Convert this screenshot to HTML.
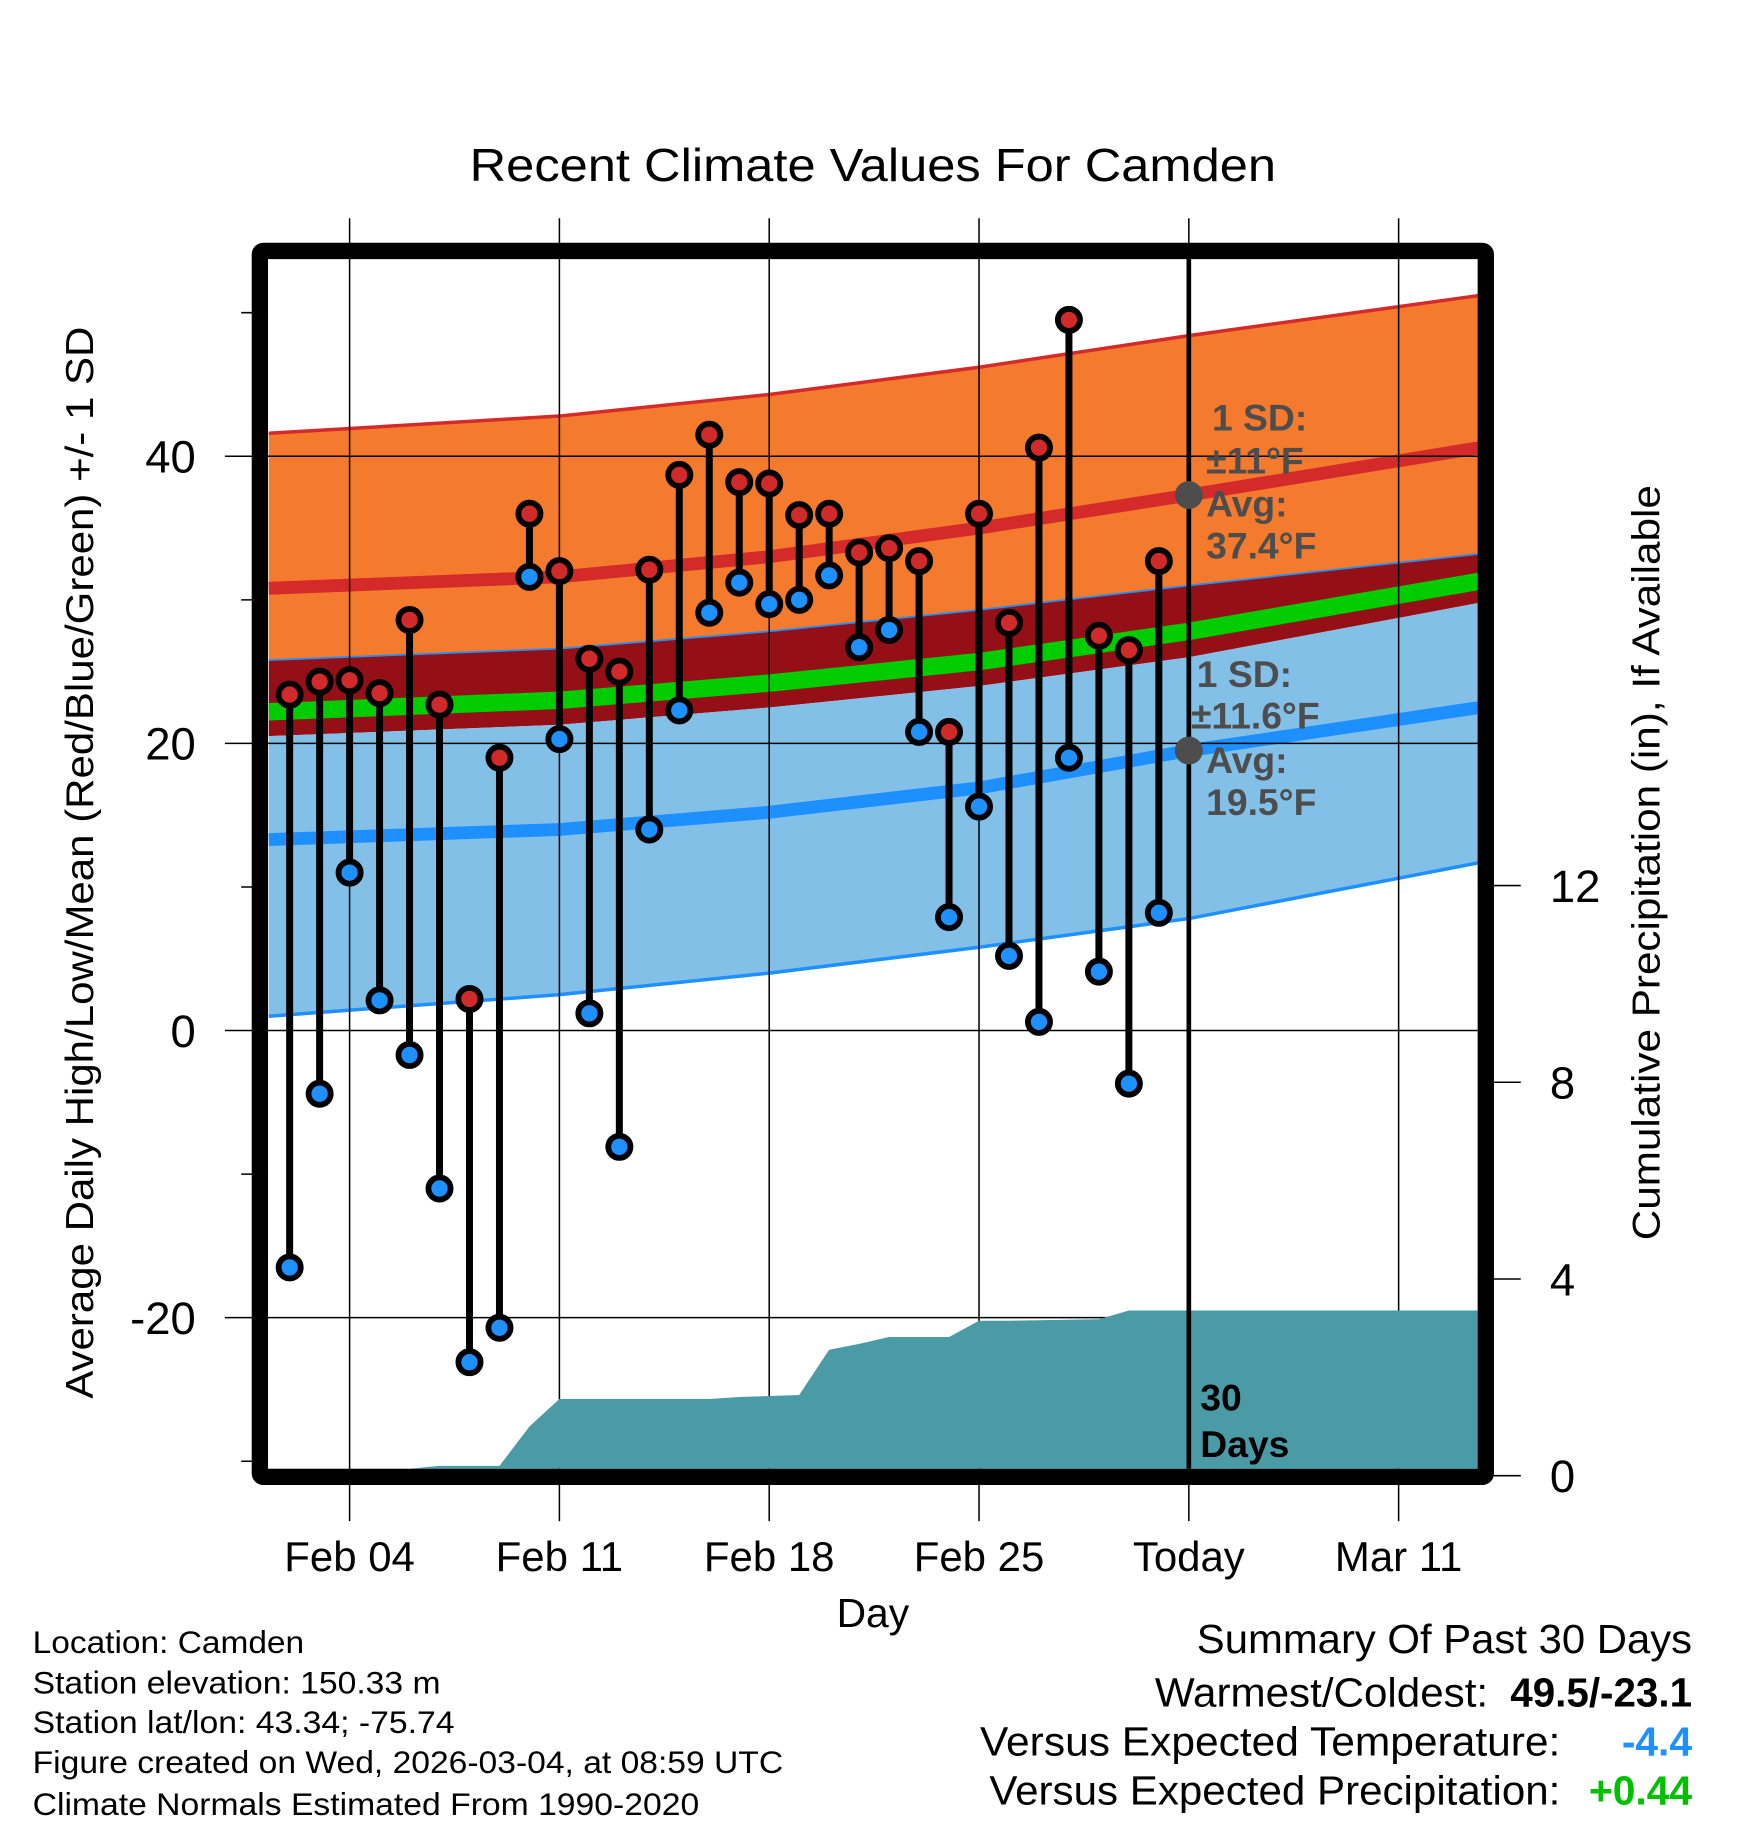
<!DOCTYPE html>
<html><head><meta charset="utf-8"><style>
html,body{margin:0;padding:0;background:#fff;}
svg{display:block;font-family:"Liberation Sans",Arial,sans-serif;}
</style></head><body>
<svg id="chart" width="1748" height="1828" viewBox="0 0 1500 1568" xmlns="http://www.w3.org/2000/svg">
<g id="bands"></g>
<g id="grid"></g>
<g id="precip"></g>
<g id="marks"></g>
<g id="annot"></g>
<g id="axes"></g>
<text x="749" y="155" font-size="40" text-anchor="middle" textLength="692" lengthAdjust="spacingAndGlyphs">Recent Climate Values For Camden</text>
<text transform="translate(80,740) rotate(-90)" font-size="33" text-anchor="middle" textLength="920" lengthAdjust="spacingAndGlyphs">Average Daily High/Low/Mean (Red/Blue/Green) +/- 1 SD</text>
<text transform="translate(1424,740) rotate(-90)" font-size="33" text-anchor="middle" textLength="648" lengthAdjust="spacingAndGlyphs">Cumulative Precipitation (in), If Available</text>
<text x="749" y="1396" font-size="35" text-anchor="middle">Day</text>
<g font-size="27">
<text x="28" y="1418" textLength="233" lengthAdjust="spacingAndGlyphs">Location: Camden</text>
<text x="28" y="1453" textLength="350" lengthAdjust="spacingAndGlyphs">Station elevation: 150.33 m</text>
<text x="28" y="1487" textLength="362" lengthAdjust="spacingAndGlyphs">Station lat/lon: 43.34; -75.74</text>
<text x="28" y="1521" textLength="644" lengthAdjust="spacingAndGlyphs">Figure created on Wed, 2026-03-04, at 08:59 UTC</text>
<text x="28" y="1557" textLength="572" lengthAdjust="spacingAndGlyphs">Climate Normals Estimated From 1990-2020</text>
</g>
<g font-size="35">
<text x="1027" y="1418" textLength="425" lengthAdjust="spacingAndGlyphs">Summary Of Past 30 Days</text>
<text x="991" y="1464" textLength="286" lengthAdjust="spacingAndGlyphs">Warmest/Coldest:</text>
<text x="1296" y="1464" font-weight="bold" textLength="156" lengthAdjust="spacingAndGlyphs">49.5/-23.1</text>
<text x="841" y="1506" textLength="498" lengthAdjust="spacingAndGlyphs">Versus Expected Temperature:</text>
<text x="1452" y="1506" fill="#1e90ff" font-weight="bold" text-anchor="end">-4.4</text>
<text x="849" y="1548" textLength="490" lengthAdjust="spacingAndGlyphs">Versus Expected Precipitation:</text>
<text x="1452" y="1548" fill="#00c000" font-weight="bold" text-anchor="end">+0.44</text>
</g>
</svg>
<script>
// data (day index: 0 = Feb 04)
const days = [-2,-1,0,1,2,3,4,5,6,7,8,9,10,11,12,13,14,15,16,17,18,19,20,21,22,23,24,25,26,27];
const highs = [23.4,24.3,24.4,23.5,28.6,22.7,2.2,19.0,36.0,32.0,25.9,25.0,32.1,38.7,41.5,38.2,38.1,35.9,36.0,33.3,33.6,32.7,20.8,36.0,28.4,40.6,49.5,27.5,26.5,32.7];
const lows = [-16.5,-4.4,11.0,2.1,-1.7,-11.0,-23.1,-20.7,31.6,20.3,1.2,-8.1,14.0,22.3,29.1,31.2,29.7,30.0,31.7,26.7,27.9,20.8,7.9,15.6,5.2,0.6,19.0,4.1,-3.7,8.2];
const precipCum = [0,0,0,0,0,0.2,0.2,0.2,1.0,1.56,1.56,1.56,1.56,1.56,1.56,1.6,1.62,1.64,2.56,2.68,2.82,2.82,2.82,3.15,3.15,3.16,3.17,3.18,3.36,3.36];
const normDays = [-2.7,7,14,21,28,37.7];
const highUpper = [41.6,42.8,44.3,46.2,48.4,51.2];
const highMean = [30.8,31.6,33.0,35.0,37.3,40.6];
const orangeLower = [25.8,26.6,27.8,29.3,31.0,33.2];
const meanLine = [22.2,23.0,24.2,25.7,27.8,31.3];
const blueUpper = [20.5,21.3,22.5,24.0,26.0,29.8];
const lowMean = [13.3,14.0,15.2,16.9,19.5,22.5];
const lowLower = [1.0,2.5,4.0,5.8,7.8,11.7];
const yTicks = [40,20,0,-20];
const yMinor = [50,30,10,-10,-30];
const pTicks = [12,8,4,0];
const xTickDays = [0,7,14,21,28,35];
const xTickLabels = ["Feb 04","Feb 11","Feb 18","Feb 25","Today","Mar 11"];

const NS="http://www.w3.org/2000/svg";
const L=230,R=1268,T=222,B=1260;
const X=d=>300+25.72*d;
const Y=v=>884-12.32*v;
const P=p=>1266-42.2*p;
function mk(parent,tag,attrs){const e=document.createElementNS(NS,tag);for(const k in attrs)e.setAttribute(k,attrs[k]);document.getElementById(parent).appendChild(e);return e;}
function line(arr){return normDays.map((d,i)=>X(d).toFixed(1)+","+Y(arr[i]).toFixed(1));}
function band(a,b){return line(a).concat(line(b).reverse()).join(" ");}

let e;
e=mk('bands','polygon',{points:band(highUpper,orangeLower),fill:'#f47a2e'});


e=mk('bands','polyline',{points:line(highUpper).join(" "),fill:'none',stroke:'#d42a2a','stroke-width':3});


e=mk('bands','polygon',{points:band(orangeLower,blueUpper),fill:'#950f16'});


e=mk('bands','polygon',{points:band(blueUpper,lowLower),fill:'#82c0e8'});


e=mk('bands','polyline',{points:line(orangeLower).join(" "),fill:'none',stroke:'#1e90ff','stroke-width':1.5});


e=mk('bands','polyline',{points:line(lowLower).join(" "),fill:'none',stroke:'#1e90ff','stroke-width':3});


e=mk('bands','polyline',{points:line(meanLine).join(" "),fill:'none',stroke:'#00cc00','stroke-width':15});


e=mk('bands','polyline',{points:line(highMean).join(" "),fill:'none',stroke:'#d42a2a','stroke-width':11});


e=mk('bands','polyline',{points:line(lowMean).join(" "),fill:'none',stroke:'#1e8fff','stroke-width':11});



// grid
xTickDays.forEach((d,i)=>{
  e=mk('grid','line',{x1:X(d),x2:X(d),y1:187,y2:1305,stroke:'#000','stroke-width':1.3});
  
  
  e=mk('axes','text',{x:X(d),y:1348,'font-size':36,'text-anchor':'middle'});
  e.textContent=xTickLabels[i];
  
  
});
yTicks.forEach(v=>{
  e=mk('grid','line',{x1:193,x2:R,y1:Y(v),y2:Y(v),stroke:'#000','stroke-width':1.3});
  
  
  e=mk('axes','text',{x:168,y:Y(v)+14,'font-size':39,'text-anchor':'end'});
  e.textContent=v;
  
  
});
yMinor.forEach(v=>{
  e=mk('grid','line',{x1:207,x2:L,y1:Y(v),y2:Y(v),stroke:'#000','stroke-width':1.3});
  
  
});
pTicks.forEach(p=>{
  e=mk('grid','line',{x1:R,x2:1305,y1:P(p),y2:P(p),stroke:'#000','stroke-width':1.3});
  
  
  e=mk('axes','text',{x:1330,y:P(p)+14,'font-size':39});
  e.textContent=p;
  
  
});

// precip
let pts=[X(-2.7)+","+B,X(-2.7)+","+Math.min(B,P(0))];
days.forEach((d,i)=>pts.push(X(d)+","+Math.min(B,P(precipCum[i]))));
pts.push(R+","+P(precipCum[precipCum.length-1]),R+","+B);
e=mk('precip','polygon',{points:pts.join(" "),fill:'#4a9ba5'});



// today line
e=mk('precip','line',{x1:X(28),x2:X(28),y1:T,y2:B,stroke:'#000','stroke-width':4});



// marks
days.forEach((d,i)=>{
  const x=X(d);
  e=mk('marks','line',{x1:x,x2:x,y1:Y(highs[i]),y2:Y(lows[i]),stroke:'#000','stroke-width':6});
  
  
  e=mk('marks','circle',{cx:x,cy:Y(highs[i]),r:9.5,fill:'#d02a2a',stroke:'#000','stroke-width':5});
  
  
  e=mk('marks','circle',{cx:x,cy:Y(lows[i]),r:9.5,fill:'#1e90ff',stroke:'#000','stroke-width':5});
  
  
});

// annotations
e=mk('annot','circle',{cx:X(28),cy:Y(highMean[4]),r:12,fill:'#4d4d4d'});


e=mk('annot','circle',{cx:X(28),cy:Y(lowMean[4]),r:12,fill:'#4d4d4d'});


const ann=[["1 SD:",1040,369],["±11°F",1035,406],["Avg:",1035,443],["37.4°F",1035,479],["1 SD:",1027,589],["±11.6°F",1022,625],["Avg:",1035,663],["19.5°F",1035,699]];
ann.forEach(a=>{
  e=mk('annot','text',{x:a[1],y:a[2],'font-size':32,'font-weight':'bold',fill:'#4d4d4d'});
  e.textContent=a[0];
  
  
});
e=mk('annot','text',{x:1030,y:1210,'font-size':32,'font-weight':'bold'});e.textContent="30";


e=mk('annot','text',{x:1030,y:1250,'font-size':32,'font-weight':'bold'});e.textContent="Days";



// frame
e=mk('axes','rect',{x:223,y:215,width:1052,height:1052,fill:'none',stroke:'#000','stroke-width':14,rx:3});


</script>
</body></html>
